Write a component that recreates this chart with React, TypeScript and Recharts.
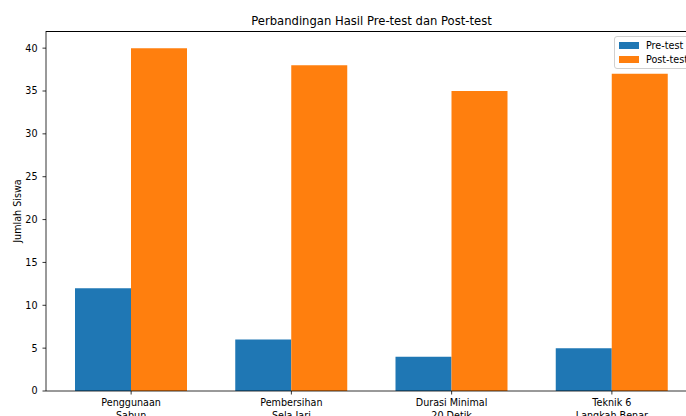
import React from 'react';
import { BarChart, Bar, XAxis, YAxis } from 'recharts';

const categories = [
  'Penggunaan\nSabun',
  'Pembersihan\nSela Jari',
  'Durasi Minimal\n20 Detik',
  'Teknik 6\nLangkah Benar',
];
const preTest = [12, 6, 4, 5];
const postTest = [40, 38, 35, 37];
const yTicks = [0, 5, 10, 15, 20, 25, 30, 35, 40];

const seriesInfo = [
  { key: 'pre', name: 'Pre-test', color: '#1f77b4' },
  { key: 'post', name: 'Post-test', color: '#ff7f0e' },
];

const FONT = '"DejaVu Sans", sans-serif';

const chartData = categories.map((label, i) => ({
  label,
  pre: preTest[i],
  post: postTest[i],
}));

function CategoryTick(props: any) {
  const { x, y, payload } = props;
  const lines = String(payload.value).split('\n');
  return (
    <text x={x} y={y} textAnchor="middle" fill="#000" fontSize={9.6} fontFamily={FONT}>
      {lines.map((line, i) => (
        <tspan key={i} x={x} dy={i === 0 ? '0.75em' : '1.35em'}>
          {line}
        </tspan>
      ))}
    </text>
  );
}

function MplLegend() {
  return (
    <div
      style={{
        position: 'absolute',
        top: 35.5,
        left: 614,
        background: 'rgba(255,255,255,0.8)',
        border: '1px solid #d0d0d0',
        borderRadius: 3,
        padding: '1.5px 8px 1.5px 3.5px',
        fontFamily: FONT,
        fontSize: 9.6,
        color: '#000',
        whiteSpace: 'nowrap',
      }}
    >
      {seriesInfo.map((s) => (
        <div key={s.key} style={{ display: 'flex', alignItems: 'center', height: 14 }}>
          <span style={{ width: 20, height: 7, background: s.color, marginRight: 7.5 }} />
          <span>{s.name}</span>
        </div>
      ))}
    </div>
  );
}

export default function App() {
  return (
    <div
      style={{
        position: 'fixed',
        top: 0,
        left: 0,
        width: 686,
        height: 416,
        overflow: 'hidden',
        background: '#fff',
      }}
    >
      <style>{'html,body{margin:0;overflow:hidden;} .recharts-surface,.recharts-wrapper{outline:none;}'}</style>
      <div
        style={{
          position: 'absolute',
          top: 14,
          left: 46,
          width: 651,
          textAlign: 'center',
          fontFamily: FONT,
          fontSize: 11.6,
          color: '#000',
        }}
      >
        Perbandingan Hasil Pre-test dan Post-test
      </div>
      <div
        style={{
          position: 'absolute',
          left: 17,
          top: 211,
          transform: 'translate(-50%, -50%) rotate(-90deg)',
          whiteSpace: 'nowrap',
          fontFamily: FONT,
          fontSize: 9.6,
          color: '#000',
        }}
      >
        Jumlah Siswa
      </div>
      {/* top spine of the axes box */}
      <div
        style={{
          position: 'absolute',
          top: 30.6,
          left: 46,
          width: 651,
          height: 0,
          borderTop: '0.8px solid #000',
        }}
      />
      <BarChart
        width={697}
        height={416}
        data={chartData}
        margin={{ top: 31, right: 0, bottom: 0, left: 0 }}
        barGap={0}
        barCategoryGap={24}
        accessibilityLayer={false}
      >
        <XAxis
          dataKey="label"
          height={25}
          padding={{ left: 5, right: 5 }}
          tick={<CategoryTick />}
          tickSize={3.5}
          tickMargin={4.5}
          interval={0}
          axisLine={{ stroke: '#000', strokeWidth: 0.8 }}
          tickLine={{ stroke: '#000', strokeWidth: 0.8 }}
        />
        <YAxis
          width={46}
          domain={[0, 42]}
          ticks={yTicks}
          tickSize={3.5}
          tickMargin={5}
          allowDataOverflow
          tick={{ fontSize: 9.6, fill: '#000', fontFamily: FONT }}
          axisLine={{ stroke: '#000', strokeWidth: 0.8 }}
          tickLine={{ stroke: '#000', strokeWidth: 0.8 }}
        />
        {seriesInfo.map((s) => (
          <Bar
            key={s.key}
            dataKey={s.key}
            name={s.name}
            fill={s.color}
            barSize={56}
            isAnimationActive={false}
          />
        ))}
      </BarChart>
      <MplLegend />
    </div>
  );
}
